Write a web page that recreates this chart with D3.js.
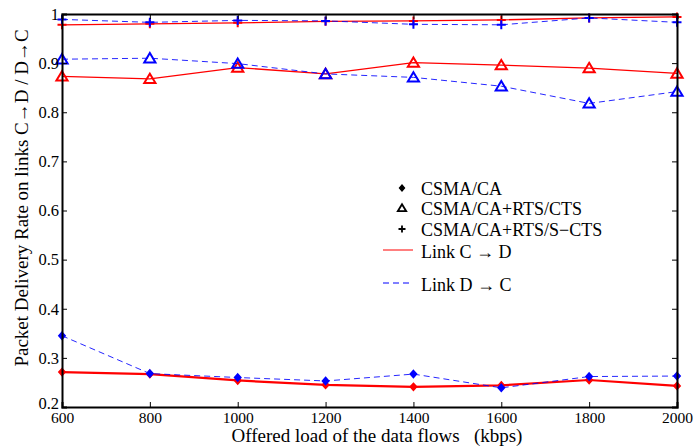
<!DOCTYPE html>
<html>
<head>
<meta charset="utf-8">
<script src="https://cdn.jsdelivr.net/npm/d3@7"></script>
<style>
  html, body { margin: 0; padding: 0; background: #fff; }
  svg { display: block; }
</style>
</head>
<body>
<svg id="chart" width="693" height="448"></svg>
<script>
// Offered load (kbps)
const loads = [600, 800, 1000, 1200, 1400, 1600, 1800, 2000];
const yTicks = [0.2, 0.3, 0.4, 0.5, 0.6, 0.7, 0.8, 0.9, 1];

// Packet delivery rate per scheme and link direction
const caCD      = [0.271, 0.267, 0.254, 0.245, 0.241, 0.244, 0.255, 0.243];
const caDC      = [0.345, 0.268, 0.260, 0.253, 0.267, 0.239, 0.262, 0.263];
const rtsCD     = [0.873, 0.868, 0.891, 0.878, 0.901, 0.896, 0.890, 0.879];
const rtsDC     = [0.908, 0.910, 0.899, 0.878, 0.871, 0.853, 0.818, 0.842];
const srtsCD    = [0.978, 0.980, 0.982, 0.985, 0.986, 0.988, 0.992, 0.994];
const srtsDC    = [0.989, 0.983, 0.987, 0.986, 0.979, 0.978, 0.992, 0.983];

const legendMarks = ["CSMA/CA", "CSMA/CA+RTS/CTS", "CSMA/CA+RTS/S\u2212CTS"];
const legendLinks = ["Link C \u2192 D", "Link D \u2192 C"];

const FONT = "'Liberation Serif', 'Times New Roman', serif";
const RED = "#ff0000", BLUE = "#0000ff";
const svg = d3.select("#chart");
const m = { left: 62, right: 16, top: 14, bottom: 41 };
const W = 693, H = 448;

const x = d3.scaleLinear().domain([600, 2000]).range([m.left, W - m.right]);
const y = d3.scaleLinear().domain([0.2, 1]).range([H - m.bottom, m.top]);

const series = [
  { v: caCD,   color: RED,  dash: null,  width: 2.2, mark: "diamond" },
  { v: caDC,   color: BLUE, dash: "6,4", width: 1,   mark: "diamond" },
  { v: rtsCD,  color: RED,  dash: null,  width: 1.3, mark: "triangle" },
  { v: rtsDC,  color: BLUE, dash: "6,4", width: 1,   mark: "triangle" },
  { v: srtsCD, color: RED,  dash: null,  width: 1.3, mark: "plus" },
  { v: srtsDC, color: BLUE, dash: "6,4", width: 1,   mark: "plus" }
];

const line = d3.line().x((d, i) => x(loads[i])).y(d => y(d));

// marker paths
function markPath(type) {
  if (type === "diamond") return "M0,-3.6L3.2,0L0,3.6L-3.2,0Z";
  if (type === "triangle") return "M0,-5.2L5.6,4.2L-5.6,4.2Z";
  return "M-4.5,0H4.5M0,-4.5V4.5";
}
function drawMark(g, type, color) {
  const p = g.append("path").attr("d", markPath(type));
  if (type === "diamond") p.attr("fill", color).attr("stroke", color).attr("stroke-width", 1.5);
  else p.attr("fill", "none").attr("stroke", color).attr("stroke-width", 2);
}

const plot = svg.append("g");
series.forEach(s => {
  plot.append("path")
    .attr("d", line(s.v))
    .attr("fill", "none")
    .attr("stroke", s.color)
    .attr("stroke-width", s.width)
    .attr("stroke-dasharray", s.dash)
    .attr("opacity", s.color === BLUE ? 0.85 : 1);
  s.v.forEach((d, i) => {
    const g = plot.append("g").attr("transform", `translate(${x(loads[i])},${y(d)})`);
    drawMark(g, s.mark, s.color);
  });
});

// axes with inward ticks on all four sides
const tl = 5;
const axB = svg.append("g").attr("transform", `translate(0,${y(0.2)})`)
  .call(d3.axisBottom(x).tickValues(loads).tickSize(-tl).tickFormat(d3.format("d")));
const axT = svg.append("g").attr("transform", `translate(0,${y(1)})`)
  .call(d3.axisTop(x).tickValues(loads).tickSize(-tl).tickFormat(""));
const axL = svg.append("g").attr("transform", `translate(${x(600)},0)`)
  .call(d3.axisLeft(y).tickValues(yTicks).tickSize(-tl).tickPadding(3).tickFormat(d => d === 1 ? "1" : d3.format(".1f")(d)));
const axR = svg.append("g").attr("transform", `translate(${x(2000)},0)`)
  .call(d3.axisRight(y).tickValues(yTicks).tickSize(-tl).tickFormat(""));

[axB, axT, axL, axR].forEach(a => {
  a.attr("font-family", null).attr("font-size", null);
  a.select(".domain").attr("stroke", "#000").attr("stroke-width", 2);
  a.selectAll(".tick line").attr("stroke", "#000").attr("stroke-width", 1);
  a.selectAll(".tick text")
    .style("font-family", FONT).style("font-size", "15.5px").attr("fill", "#000");
});
axB.selectAll(".tick text").attr("y", 16).attr("dy", 0);
axL.selectAll(".tick text").attr("dy", "0.32em").style("font-size", "16.5px");
// lowest y label sits a touch higher, clear of the first x label
axL.selectAll(".tick text").filter(d => d === 0.2).attr("dy", "0.1em");

// axis titles
svg.append("text")
  .attr("x", 377).attr("y", 442)
  .attr("text-anchor", "middle")
  .style("font-family", FONT)
  .style("font-size", "19px")
  .style("white-space", "pre")
  .text("Offered load of the data flows   (kbps)");

svg.append("text")
  .attr("transform", `translate(28,198) rotate(-90)`)
  .attr("text-anchor", "middle")
  .style("font-family", FONT)
  .style("font-size", "19px")
  .text("Packet Delivery Rate on links C\u2192D / D\u2192C");

// legend
const lg = svg.append("g");
const markTypes = ["diamond", "triangle", "plus"];
const rowY = [188, 208, 229];
legendMarks.forEach((t, i) => {
  const g = lg.append("g").attr("transform", `translate(402,${rowY[i]})`);
  const type = markTypes[i];
  const p = g.append("path").attr("d", type === "triangle" ? "M0,-3.8L4.2,3.2L-4.2,3.2Z" : type === "plus" ? "M-3.5,0H3.5M0,-3.5V3.5" : "M0,-3L2.6,0L0,3L-2.6,0Z");
  if (type === "diamond") p.attr("fill", "#000").attr("stroke", "#000").attr("stroke-width", 1.2);
  else p.attr("fill", "none").attr("stroke", "#000").attr("stroke-width", 1.8);
  lg.append("text").attr("x", 421).attr("y", rowY[i] + 7)
    .style("font-family", FONT).style("font-size", "18px").text(t);
});
const linkY = [250, 283];
const linkColor = [RED, BLUE];
legendLinks.forEach((t, i) => {
  lg.append("line")
    .attr("x1", 383).attr("x2", 413).attr("y1", linkY[i]).attr("y2", linkY[i])
    .attr("stroke", linkColor[i]).attr("stroke-width", 1)
    .attr("stroke-dasharray", i === 1 ? "6,4" : null);
  lg.append("text").attr("x", 421).attr("y", linkY[i] + 8)
    .style("font-family", FONT).style("font-size", "18px").text(t);
});
</script>
</body>
</html>
